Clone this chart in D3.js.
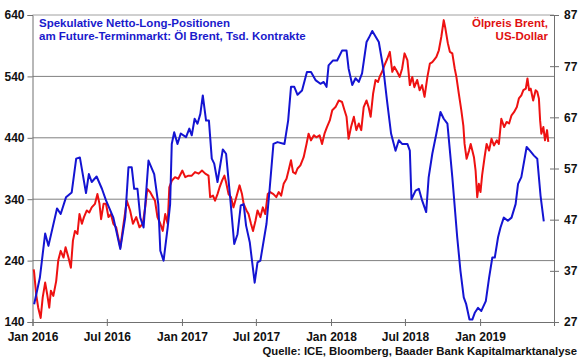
<!DOCTYPE html>
<html><head><meta charset="utf-8">
<script src="https://cdn.jsdelivr.net/npm/d3@7"></script>
<style>
html,body{margin:0;padding:0;background:#fff;}
svg{display:block;font-family:"Liberation Sans",Arial,sans-serif;font-weight:bold;}
</style></head>
<body><svg id="c" width="580" height="359"></svg>
<script>
const leftTicks = [140, 240, 340, 440, 540, 640];
const rightTicks = [27, 37, 47, 57, 67, 77, 87];
const xTickDates = ["2016-01-01","2016-07-01","2017-01-01","2017-07-01","2018-01-01","2018-07-01","2019-01-01"];
const xTickLabels = ["Jan 2016","Jul 2016","Jan 2017","Jul 2017","Jan 2018","Jul 2018","Jan 2019"];
const gridValues = [240, 340, 440, 540];

const positionDates = ["2016-01-05","2016-01-19","2016-02-01","2016-02-09","2016-03-01","2016-03-10","2016-03-23","2016-04-06","2016-04-17","2016-04-26","2016-05-11","2016-05-18","2016-05-25","2016-06-06","2016-06-19","2016-06-29","2016-07-17","2016-08-03","2016-08-15","2016-08-23","2016-08-31","2016-09-06","2016-09-14","2016-09-21","2016-09-29","2016-10-11","2016-10-25","2016-11-04","2016-11-09","2016-11-17","2016-11-27","2016-12-03","2016-12-07","2016-12-13","2016-12-21","2016-12-29","2017-01-11","2017-01-19","2017-01-25","2017-02-01","2017-02-08","2017-02-15","2017-02-21","2017-03-01","2017-03-08","2017-03-15","2017-03-21","2017-03-29","2017-04-11","2017-04-19","2017-04-29","2017-05-09","2017-05-17","2017-05-25","2017-06-01","2017-06-07","2017-06-16","2017-06-28","2017-07-05","2017-07-12","2017-07-27","2017-08-04","2017-08-13","2017-08-23","2017-09-09","2017-09-18","2017-09-25","2017-10-03","2017-10-11","2017-10-22","2017-11-03","2017-11-13","2017-11-24","2017-12-06","2017-12-14","2017-12-21","2017-12-26","2018-01-06","2018-01-16","2018-01-28","2018-02-08","2018-02-13","2018-02-22","2018-03-02","2018-03-10","2018-03-18","2018-03-29","2018-04-03","2018-04-12","2018-04-20","2018-04-28","2018-05-09","2018-05-18","2018-05-28","2018-06-08","2018-06-16","2018-06-24","2018-07-07","2018-07-13","2018-07-17","2018-07-27","2018-08-04","2018-08-12","2018-08-22","2018-08-28","2018-09-06","2018-09-16","2018-09-26","2018-10-04","2018-10-13","2018-10-25","2018-11-06","2018-11-14","2018-11-22","2018-11-28","2018-12-06","2018-12-13","2018-12-19","2018-12-27","2019-01-04","2019-01-15","2019-01-23","2019-01-31","2019-02-06","2019-02-14","2019-02-20","2019-02-28","2019-03-10","2019-03-19","2019-03-29","2019-04-04","2019-04-12","2019-04-25","2019-05-03","2019-05-13","2019-05-21","2019-05-29","2019-06-06"];
const positionValues = [169,212,284,264,325,316,343,351,406,408,350,381,368,377,357,338,310,259,310,392,392,357,357,310,294,403,381,332,256,240,294,332,430,449,430,447,441,455,444,471,463,479,509,468,468,406,398,368,421,414,343,267,283,330,332,297,270,204,237,240,300,359,430,433,430,468,523,523,510,517,547,547,534,528,531,523,558,566,566,582,582,553,526,537,531,545,596,602,614,605,596,553,501,447,419,436,430,430,419,340,354,357,338,319,375,414,447,482,471,463,376,278,223,180,169,144,144,155,163,158,174,212,245,245,278,294,310,305,310,332,365,376,425,419,411,406,346,304];

const brentDates = ["2016-01-04","2016-01-05","2016-01-10","2016-01-15","2016-01-21","2016-01-26","2016-02-01","2016-02-06","2016-02-11","2016-02-15","2016-02-21","2016-02-28","2016-03-04","2016-03-10","2016-03-17","2016-03-22","2016-03-29","2016-04-04","2016-04-09","2016-04-14","2016-04-20","2016-04-25","2016-05-01","2016-05-06","2016-05-13","2016-05-19","2016-05-25","2016-06-02","2016-06-08","2016-06-13","2016-06-17","2016-06-23","2016-06-29","2016-07-05","2016-07-11","2016-07-17","2016-07-24","2016-07-29","2016-08-03","2016-08-11","2016-08-19","2016-08-27","2016-09-03","2016-09-11","2016-09-19","2016-09-27","2016-10-03","2016-10-08","2016-10-15","2016-10-22","2016-10-27","2016-11-02","2016-11-09","2016-11-15","2016-11-21","2016-11-27","2016-12-01","2016-12-07","2016-12-15","2016-12-23","2017-01-02","2017-01-09","2017-01-17","2017-01-25","2017-02-02","2017-02-11","2017-02-19","2017-02-27","2017-03-07","2017-03-11","2017-03-18","2017-03-23","2017-03-29","2017-04-03","2017-04-09","2017-04-15","2017-04-19","2017-04-25","2017-05-01","2017-05-07","2017-05-14","2017-05-22","2017-05-28","2017-06-01","2017-06-08","2017-06-13","2017-06-19","2017-06-24","2017-06-30","2017-07-05","2017-07-12","2017-07-18","2017-07-24","2017-07-30","2017-08-05","2017-08-13","2017-08-20","2017-08-26","2017-09-01","2017-09-07","2017-09-14","2017-09-19","2017-09-25","2017-09-30","2017-10-06","2017-10-11","2017-10-18","2017-10-26","2017-11-02","2017-11-07","2017-11-13","2017-11-20","2017-11-26","2017-12-04","2017-12-10","2017-12-16","2017-12-22","2017-12-29","2018-01-04","2018-01-12","2018-01-20","2018-01-28","2018-02-03","2018-02-08","2018-02-13","2018-02-19","2018-02-26","2018-03-04","2018-03-10","2018-03-16","2018-03-22","2018-03-29","2018-04-03","2018-04-08","2018-04-14","2018-04-20","2018-04-26","2018-04-30","2018-05-06","2018-05-12","2018-05-19","2018-05-25","2018-05-31","2018-06-05","2018-06-12","2018-06-18","2018-06-24","2018-06-30","2018-07-07","2018-07-13","2018-07-19","2018-07-24","2018-07-31","2018-08-06","2018-08-12","2018-08-18","2018-08-25","2018-08-31","2018-09-06","2018-09-10","2018-09-16","2018-09-22","2018-09-28","2018-10-04","2018-10-08","2018-10-14","2018-10-19","2018-10-25","2018-10-31","2018-11-04","2018-11-10","2018-11-16","2018-11-21","2018-11-24","2018-11-29","2018-12-05","2018-12-09","2018-12-13","2018-12-17","2018-12-21","2018-12-25","2018-12-29","2019-01-02","2019-01-06","2019-01-12","2019-01-17","2019-01-23","2019-01-29","2019-02-04","2019-02-11","2019-02-16","2019-02-22","2019-03-01","2019-03-07","2019-03-13","2019-03-19","2019-03-25","2019-04-01","2019-04-06","2019-04-12","2019-04-17","2019-04-23","2019-04-27","2019-05-01","2019-05-05","2019-05-11","2019-05-17","2019-05-21","2019-05-25","2019-05-28","2019-05-31","2019-06-05","2019-06-09","2019-06-14","2019-06-17"];
const brentValues = [37.3,36.7,32.4,29.8,27.8,31.8,34.7,32.4,29.8,33.1,32.1,35.0,39.0,40.9,39.6,41.6,39.6,37.6,42.9,44.8,44.2,48.1,46.2,47.5,48.8,48.4,49.4,50.1,52.0,50.1,47.1,50.1,50.1,47.5,48.1,46.2,45.5,43.5,41.6,46.2,50.7,48.8,46.2,47.5,45.5,46.2,49.4,53.0,52.4,51.4,50.7,47.5,46.2,44.8,48.1,46.2,53.3,54.6,55.3,55.0,56.6,55.3,55.6,55.6,56.3,56.0,56.6,56.0,55.6,51.4,51.7,50.7,52.0,53.3,54.6,55.6,54.3,52.0,51.4,49.4,51.4,53.7,52.0,50.1,48.8,48.1,46.2,44.8,46.8,48.8,47.5,49.4,48.1,52.0,52.4,52.0,51.4,52.4,51.7,54.0,55.0,56.6,58.6,56.3,56.0,57.0,57.6,59.2,61.8,63.8,62.5,63.5,63.1,63.5,61.8,63.8,65.1,66.4,68.4,69.0,70.3,70.0,68.4,67.1,62.8,65.1,67.1,64.5,65.8,64.5,69.0,70.3,69.0,67.1,71.6,74.3,73.9,74.9,75.9,77.2,78.5,79.8,75.9,76.9,75.9,74.9,76.5,79.5,78.2,73.3,74.9,72.9,74.3,72.3,73.3,71.0,74.9,77.5,77.8,78.2,78.8,80.1,82.7,86.0,84.4,81.5,79.8,79.5,76.5,74.9,71.6,68.4,65.4,61.8,58.9,60.5,61.8,60.5,59.2,56.6,51.4,54.0,52.4,55.7,59.2,61.8,60.5,62.8,61.5,62.5,61.8,66.7,65.1,66.1,65.8,67.4,68.0,69.0,70.7,71.3,72.3,72.6,74.6,72.3,72.6,70.3,72.3,72.0,70.7,66.4,63.8,65.1,62.5,64.5,62.2];

const svg = d3.select("#c");
const parse = d3.utcParse("%Y-%m-%d");
const X0 = 32.5, X1 = 554, Y0 = 15, Y1 = 322;
const x = d3.scaleUtc().domain([parse("2016-01-01"), parse("2019-07-01")]).range([X0, X1]);
const yL = d3.scaleLinear().domain([140, 640]).range([Y1, Y0]);
const yR = d3.scaleLinear().domain([27, 87]).range([Y1, Y0]);
const gridCol = "#808080";

// grid
svg.append("g").selectAll("line").data(gridValues).join("line")
  .attr("x1", X0).attr("x2", X1).attr("y1", d => yL(d)).attr("y2", d => yL(d))
  .attr("stroke", gridCol).attr("stroke-width", 1);
// top border
svg.append("line").attr("x1", X0).attr("x2", X1).attr("y1", yL(640)).attr("y2", yL(640))
  .attr("stroke", "#a0a0a0").attr("stroke-width", 1);

// axes
const axL = svg.append("g").attr("transform", `translate(${X0},0)`)
  .call(d3.axisLeft(yL).tickValues(leftTicks).tickSize(5).tickPadding(3).tickFormat(d3.format("d")));
const axR = svg.append("g").attr("transform", `translate(${X1},0)`)
  .call(d3.axisRight(yR).tickValues(rightTicks).tickSize(5).tickPadding(5).tickFormat(d3.format("d")));
const axB = svg.append("g").attr("transform", `translate(0,${Y1})`)
  .call(d3.axisBottom(x).tickValues(xTickDates.map(parse)).tickSize(4).tickPadding(6)
    .tickFormat((d, i) => xTickLabels[i]));
[axL, axR, axB].forEach(a => {
  a.select(".domain").attr("stroke", "#707070");
  a.selectAll(".tick line").attr("stroke", "#707070");
  a.selectAll("text").attr("fill", "#111").style("font-size", "12px").style("font-weight", "bold")
    .style("font-family", "'Liberation Sans', Arial, sans-serif");
});
axR.selectAll(".tick line").attr("x1", -4);
axB.selectAll(".tick line").attr("y1", -3);

// lines
const lineL = d3.line().x(d => x(d[0])).y(d => yL(d[1]));
const lineR = d3.line().x(d => x(d[0])).y(d => yR(d[1]));
const posData = positionDates.map((d, i) => [parse(d), positionValues[i]]);
const brentData = brentDates.map((d, i) => [parse(d), brentValues[i]]);

svg.append("path").datum(brentData).attr("d", lineR).attr("fill", "none")
  .attr("stroke", "#ee1111").attr("stroke-width", 2).attr("stroke-linejoin", "round");
svg.append("path").datum(posData).attr("d", lineL).attr("fill", "none")
  .attr("stroke", "#1414d2").attr("stroke-width", 2).attr("stroke-linejoin", "round");

// legends
const fs = "11.5px";
svg.append("text").attr("x", 39).attr("y", 26.5).attr("fill", "#1a1acc").style("font-size", fs)
  .text("Spekulative Netto-Long-Positionen");
svg.append("text").attr("x", 39).attr("y", 39.5).attr("fill", "#1a1acc").style("font-size", fs)
  .text("am Future-Terminmarkt: Öl Brent, Tsd. Kontrakte");
svg.append("text").attr("x", 548).attr("y", 26.5).attr("text-anchor", "end").attr("fill", "#e01010").style("font-size", fs)
  .text("Ölpreis Brent,");
svg.append("text").attr("x", 548).attr("y", 39.5).attr("text-anchor", "end").attr("fill", "#e01010").style("font-size", fs)
  .text("US-Dollar");
svg.append("text").attr("x", 577).attr("y", 355).attr("text-anchor", "end").attr("fill", "#111")
  .style("font-size", "11.3px").text("Quelle: ICE, Bloomberg, Baader Bank Kapitalmarktanalyse");
</script></body></html>
